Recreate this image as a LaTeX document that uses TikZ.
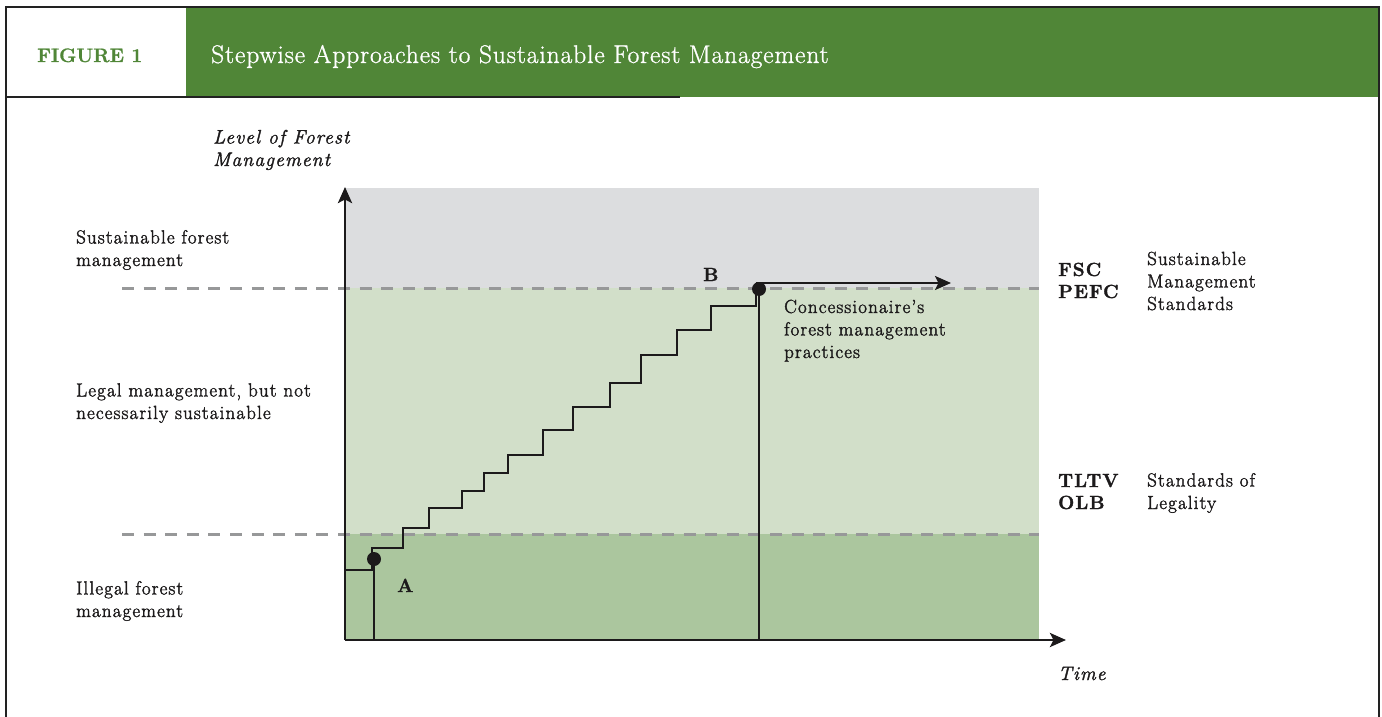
\documentclass[tikz,border=0pt]{standalone}
\usepackage{fontspec}
\setmainfont{Latin Modern Roman}
\newfontfamily\bodyfont{Latin Modern Roman}[LetterSpace=6,FakeBold=1.8]
\newfontfamily\titlefont{Latin Modern Roman}[LetterSpace=3.5,FakeBold=1]
\newfontfamily\tagfont{Latin Modern Roman}[LetterSpace=0,FakeBold=1]
\usetikzlibrary{arrows.meta}
\definecolor{headgreen}{HTML}{508637}
\definecolor{framegray}{HTML}{222222}
\definecolor{skygray}{HTML}{DCDDDF}
\definecolor{legalgreen}{HTML}{D2DFC9}
\definecolor{illegalgreen}{HTML}{ABC69E}
\definecolor{dashgray}{HTML}{979899}
\definecolor{ink}{HTML}{1C1A1B}
\tikzset{
  bigtip/.tip={Stealth[length=16pt,width=14pt,inset=3.5pt]},
  axisline/.style={draw=ink,line width=2.8pt,-bigtip},
  stairline/.style={draw=ink,line width=2.4pt},
  levelline/.style={draw=dashgray,line width=3pt,dash pattern=on 12pt off 9.6pt},
  dropline/.style={draw=ink,line width=2.4pt},
  pointdot/.style={circle,fill=ink,minimum size=14pt,inner sep=0pt},
  lbl/.style={inner sep=0pt,anchor=base west,align=left,text=ink,
    font=\bodyfont\fontsize{19}{22.5}\selectfont},
  blbl/.style={lbl,font=\bodyfont\fontsize{19}{22}\selectfont\bfseries},
  ilbl/.style={lbl,font=\bodyfont\fontsize{19.5}{22.5}\selectfont\itshape},
}
\begin{document}
\begin{tikzpicture}[x=1pt,y=-1pt]
\useasboundingbox (0,0) rectangle (1382,717);

% header band and frame
\fill[headgreen] (186,7) rectangle (1379,97);
\draw[framegray,line width=2.6pt] (6,717) -- (6,7) -- (1379,7) -- (1379,717);
\draw[framegray,line width=2pt] (6,96.5) -- (680,96.5);
\node[inner sep=0pt,anchor=base west,text=headgreen,
  font=\tagfont\fontsize{19.5}{24}\selectfont\bfseries] (figno) at (37,62) {FIGURE 1};
\node[inner sep=0pt,anchor=base west,text=white,
  font=\titlefont\fontsize{25.5}{28}\selectfont] (title) at (211,63)
  {Stepwise Approaches to Sustainable Forest Management};

% management levels
\fill[skygray] (345,188) rectangle (1039,288);
\fill[legalgreen] (345,288) rectangle (1039,534);
\fill[illegalgreen] (345,534) rectangle (1039,640);
\draw[levelline] (122,288) -- (1039,288);
\draw[levelline] (122,534) -- (1039,534);

% axes
\coordinate (O) at (345,640);
\coordinate (ytop) at (345,187);
\coordinate (xend) at (1066,640);
\draw[axisline] (O) -- (ytop);
\draw[axisline] (O) -- (xend);

% stepwise improvement from A to B
\coordinate (stairstart) at (345,570);
\coordinate (trendend) at (951,283);
\draw[stairline] (stairstart) -- (372,570) -- (372,548) -- (403,548) -- (403,528)
  -- (429,528) -- (429,508) -- (462,508) -- (462,491) -- (484,491) -- (484,473)
  -- (508,473) -- (508,455) -- (543,455) -- (543,430) -- (573,430) -- (573,407)
  -- (610,407) -- (610,383) -- (641,383) -- (641,355) -- (677,355) -- (677,330)
  -- (711,330) -- (711,306) -- (756,306) -- (756,283);
\draw[stairline,-bigtip] (756,283) -- (trendend);

\node[pointdot] (ptA) at (374,559) {};
\node[pointdot] (ptB) at (759,289) {};
\draw[dropline] (ptA.center) -- (ptA.center |- O);
\draw[dropline] (ptB.center) -- (ptB.center |- O);
\node[blbl] (labA) at (397,592) {A};
\node[blbl] (labB) at (703,281) {B};
\node[lbl] (conc) at (784,358) {Concessionaire’s\\forest management\\practices};

% axis titles
\node[ilbl] (ytitle) at (213,166) {Level of Forest\\Management};
\node[ilbl] (xtitle) at (1058,680) {Time};

% level descriptions
\node[lbl] (sfm) at (76,266) {Sustainable forest\\management};
\node[lbl] (legal) at (76,419) {Legal management, but not\\necessarily sustainable};
\node[lbl] (illegal) at (76,617) {Illegal forest\\management};

% standards
\node[blbl] (fsc) at (1058,298) {FSC\\PEFC};
\node[lbl] (sms) at (1147,310) {Sustainable\\Management\\Standards};
\node[blbl] (tltv) at (1058,509) {TLTV\\OLB};
\node[lbl] (sol) at (1147,509) {Standards of\\Legality};
\end{tikzpicture}
\end{document}
